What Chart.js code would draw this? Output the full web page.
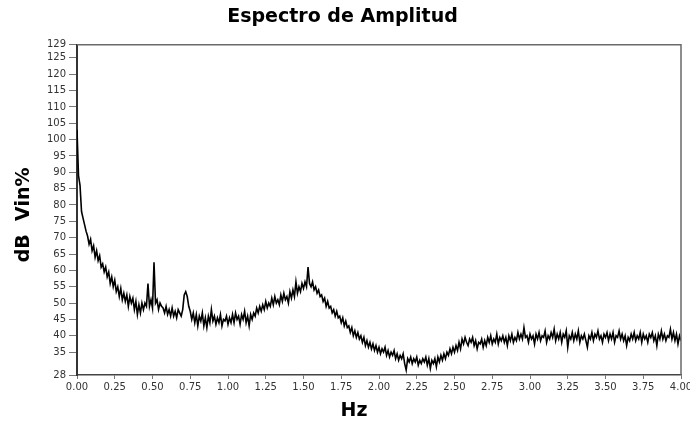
<!DOCTYPE html>
<html>
<head>
<meta charset="utf-8">
<script src="https://cdn.jsdelivr.net/npm/chart.js@4.4.1/dist/chart.umd.min.js"></script>
<style>
  html, body { margin: 0; padding: 0; background: #fff; }
  #wrap { width: 690px; height: 421px; position: relative; }
</style>
</head>
<body>
<div id="wrap"><canvas id="c" width="690" height="421"></canvas></div>
<script>
// Spectrum resolution (Hz) and amplitudes (dB Vin%), one row per 0.1 Hz
const freqStep = 0.01;
const amplitudeDb = [
  103, 89, 86, 78, 76, 74, 72, 70.5, 68, 69.5,
  66, 67.5, 64, 66, 63, 64.5, 61, 62, 59.5, 61,
  58, 59.5, 56, 58, 55, 57, 53.5, 55, 52, 54.5,
  51, 53, 50.5, 52.5, 49, 52, 50, 51.5, 48, 50.5,
  46.5, 49.5, 47, 50, 48, 50, 49, 56, 49, 51,
  48.5, 62.5, 50, 51, 48, 50, 49, 48.5, 47, 49,
  46.5, 48, 46, 48.5, 46, 47.5, 45.5, 48, 47, 46,
  48, 52.5, 53.5, 52, 49, 47.5, 45, 47, 44, 46.5,
  43, 46, 44.5, 47, 43, 45.5, 42.5, 46, 44, 48,
  44.5, 46, 43.5, 45.5, 44, 46.5, 43, 45, 44.5, 46,
  43.5, 45.5, 44, 46.5, 44, 47, 45, 46, 43.5, 46.5,
  45, 47.5, 44, 46, 43, 46.5, 45, 47, 46, 48.5,
  47, 49, 47.5, 49.5, 48, 50.5, 48.5, 50, 49, 51.5,
  49.5, 52, 50, 51, 49.5, 52.5, 50.5, 53, 51, 52,
  50, 53.5, 51.5, 54, 52, 56.5, 53, 55, 53.5, 56,
  54.5, 56.5, 55, 61, 56, 55, 56.5, 54, 55, 53,
  54, 52, 52.5, 50.5, 51.5, 49, 50.5, 48.5, 49, 47,
  48, 46, 47.5, 45.5, 46, 44, 45.5, 43, 44.5, 42.5,
  43, 41, 42.5, 40, 41.5, 39.5, 41, 39, 40, 38,
  39.5, 37, 38.5, 36.5, 38, 36, 37.5, 35.5, 37, 35,
  36.5, 34.5, 36, 35, 36.5, 34, 35.5, 33.5, 35, 34,
  35.5, 33, 34.5, 32.5, 34, 33, 34.5, 31.5, 29.5, 33,
  32, 33.5, 31.5, 33, 32, 33.5, 31, 32.5, 31.5, 33,
  32, 33.5, 31, 33, 30, 32.5, 31.5, 33, 30.5, 33.5,
  32, 34, 32.5, 34.5, 33, 35, 34, 36, 34.5, 36.5,
  35, 37, 35.5, 38, 36, 39, 37.5, 39.5, 38, 37,
  39, 38, 39.5, 37, 38.5, 36, 38, 37.5, 39, 36.5,
  38.5, 37, 39.5, 38, 40, 37.5, 39, 38, 40.5, 37.5,
  39.5, 38.5, 40, 38, 39.5, 37, 40, 38.5, 40.5, 38,
  39.5, 38.5, 41, 39, 40.5, 39, 42.5, 39.5, 40, 38,
  40.5, 39, 40, 37.5, 40.5, 39, 41, 38.5, 40, 39.5,
  41.5, 38, 40, 39, 41, 39.5, 42, 38.5, 40.5, 39,
  41, 38, 40.5, 39.5, 41.5, 36.5, 40, 39, 41, 38.5,
  40.5, 39, 41.5, 38, 40, 39, 40.5, 38.5, 36.5, 40,
  39, 41, 38.5, 40.5, 39.5, 41.5, 39, 40, 38, 40.5,
  39.5, 41, 38.5, 40.5, 39, 41, 38, 40, 39.5, 41.5,
  39, 40.5, 38.5, 40, 37, 39.5, 38.5, 40.5, 39, 41,
  38.5, 40, 39, 41, 38, 40.5, 39, 40, 38, 40.5,
  39.5, 41, 38.5, 40, 37, 40.5, 39, 41.5, 39, 40.5,
  38.5, 40, 39.5, 42, 39, 41, 38.5, 40.5, 37.5, 40,
  38.5
];
const yTickValues = [28, 35, 40, 45, 50, 55, 60, 65, 70, 75, 80, 85, 90, 95, 100, 105, 110, 115, 120, 125, 129];
const xTickValues = [0, 0.25, 0.5, 0.75, 1, 1.25, 1.5, 1.75, 2, 2.25, 2.5, 2.75, 3, 3.25, 3.5, 3.75, 4];
const titleText = 'Espectro de Amplitud';
const xTitleText = 'Hz';
const yTitleText = 'dB  Vin%';

const points = amplitudeDb.map((v, i) => ({ x: +(i * freqStep).toFixed(2), y: v }));

const frame = {
  id: 'frame',
  afterDatasetsDraw(chart) {
    const a = chart.chartArea, ctx = chart.ctx;
    ctx.save();
    ctx.strokeStyle = '#6a6a6a';
    ctx.lineWidth = 1.5;
    ctx.beginPath();
    ctx.moveTo(a.left, a.top);
    ctx.lineTo(a.right, a.top);
    ctx.lineTo(a.right, a.bottom);
    ctx.stroke();
    ctx.restore();
  },
  afterDraw(chart) {
    const a = chart.chartArea, ctx = chart.ctx;
    ctx.save();
    ctx.fillStyle = '#000';
    ctx.font = 'bold 19px "DejaVu Sans", sans-serif';
    ctx.textAlign = 'center';
    ctx.textBaseline = 'middle';
    ctx.fillText(xTitleText, (a.left + a.right) / 2 - 25, a.bottom + 36);
    ctx.translate(24, (a.top + a.bottom) / 2 + 5);
    ctx.rotate(-Math.PI / 2);
    ctx.fillText(yTitleText, 0, 0);
    ctx.restore();
  }
};

Chart.defaults.font.family = '"DejaVu Sans", sans-serif';
Chart.defaults.color = '#222';

new Chart(document.getElementById('c'), {
  type: 'line',
  data: {
    datasets: [{
      data: points,
      borderColor: '#000',
      borderWidth: 1.6,
      pointRadius: 0,
      tension: 0,
      fill: false
    }]
  },
  options: {
    responsive: false,
    animation: false,
    layout: { padding: { left: 4, right: 9, top: 0, bottom: 0 } },
    plugins: {
      legend: { display: false },
      tooltip: { enabled: false },
      title: {
        display: true,
        text: titleText,
        font: { size: 19, weight: 'bold', family: '"DejaVu Sans", sans-serif' },
        color: '#000',
        padding: { top: 6, bottom: 16 }
      }
    },
    scales: {
      x: {
        type: 'linear',
        min: 0, max: 4,
        afterBuildTicks: (s) => { s.ticks = xTickValues.map(v => ({ value: v })); },
        afterFit: (s) => { s.height = 46; s.paddingLeft = 0; s.paddingRight = 0; },
        ticks: {
          callback: (v) => Number(v).toFixed(2),
          font: { size: 10 },
          color: '#333',
          maxRotation: 0,
          autoSkip: false,
          padding: 2
        },
        grid: { display: true, drawOnChartArea: false, drawTicks: true, tickLength: 4, color: '#777' },
        border: { display: true, color: '#444', width: 1.5 }
      },
      y: {
        type: 'linear',
        min: 28, max: 129,
        afterBuildTicks: (s) => { s.ticks = yTickValues.map(v => ({ value: v })); },
        afterFit: (s) => { s.width = 73; s.paddingTop = 0; s.paddingBottom = 0; },
        ticks: {
          font: { size: 10 },
          color: '#333',
          autoSkip: false,
          padding: 3
        },
        grid: { display: true, drawOnChartArea: false, drawTicks: true, tickLength: 8, color: '#777' },
        border: { display: true, color: '#333', width: 2 }
      }
    }
  },
  plugins: [frame]
});
</script>
</body>
</html>
